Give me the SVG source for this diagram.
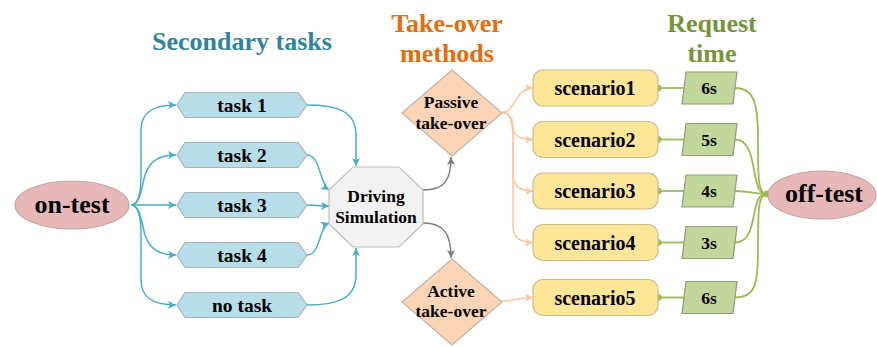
<svg xmlns="http://www.w3.org/2000/svg" width="877" height="347" viewBox="0 0 877 347">
<style>
text{font-family:"Liberation Serif","Times New Roman",serif;font-weight:bold;text-anchor:middle}
.title{font-size:26px}
.task{fill:#b7dee8;stroke:#a5b5ba;stroke-width:1.2}
.term{fill:#e6b9b8;stroke:#c7a5a4;stroke-width:1.2}
.oct{fill:#f2f2f2;stroke:#bfbfbf;stroke-width:1.2}
.dia{fill:#fbd5b5;stroke:#c4b3a6;stroke-width:1.2}
.scn{fill:#ffe699;stroke:#c9bb8e;stroke-width:1.2}
.par{fill:#c3d69b;stroke:#8f9d78;stroke-width:1.2}
.cb{fill:none;stroke:#4bacc6;stroke-width:1.5}
.cg{fill:none;stroke:#808080;stroke-width:1.5}
.co{fill:none;stroke:#f9c8a3;stroke-width:1.5}
.cgr{fill:none;stroke:#9bbb59;stroke-width:1.8}
.t19{font-size:19.5px}
.t17{font-size:17.5px}
.t20{font-size:20px}
.t26{font-size:26px}
</style>
<defs>
<marker id="mb" viewBox="0 0 10 10" refX="10" refY="5" markerWidth="9" markerHeight="8" orient="auto" markerUnits="userSpaceOnUse"><path d="M0,0 L10,5 L0,10 L2.5,5 z" fill="#4bacc6"/></marker>
<marker id="mg" viewBox="0 0 10 10" refX="10" refY="5" markerWidth="9" markerHeight="8" orient="auto" markerUnits="userSpaceOnUse"><path d="M0,0 L10,5 L0,10 L2.5,5 z" fill="#808080"/></marker>
<marker id="mo" viewBox="0 0 10 10" refX="10" refY="5" markerWidth="9" markerHeight="8" orient="auto" markerUnits="userSpaceOnUse"><path d="M0,0 L10,5 L0,10 L2.5,5 z" fill="#f9c8a3"/></marker>
<marker id="dot" viewBox="0 0 10 10" refX="5" refY="5" markerWidth="7" markerHeight="7" markerUnits="userSpaceOnUse"><circle cx="5" cy="5" r="5" fill="#9bbb59"/></marker>
</defs>

<g id="titles">
<text class="title" x="242" y="50" fill="#31849b">Secondary tasks</text>
<text class="title" x="447" y="32" fill="#e46c0a">Take-over</text>
<text class="title" x="447" y="62" fill="#e46c0a">methods</text>
<text class="title" x="712" y="32" fill="#77933c">Request</text>
<text class="title" x="712" y="62" fill="#77933c">time</text>
</g>

<g id="connectors">
<path class="cb" marker-end="url(#mb)" d="M131,205 C138,205 141,195 141,175 L141,130 C141,113 152,105 176,105"/>
<path class="cb" marker-end="url(#mb)" d="M131,205 C140,205 141,190 145,175 C150,160 160,155 176,155"/>
<path class="cb" marker-end="url(#mb)" d="M131,205 L176,205"/>
<path class="cb" marker-end="url(#mb)" d="M131,205 C140,205 141,220 145,235 C150,250 160,255 176,255"/>
<path class="cb" marker-end="url(#mb)" d="M131,205 C138,205 141,215 141,235 L141,280 C141,297 152,305 176,305"/>
<path class="cb" marker-end="url(#mb)" d="M307,105 C335,105 356,110 356,135 L356,166"/>
<path class="cb" marker-end="url(#mb)" d="M307,155 C315,155 318,165 321,175 C324,184 326,188 329,190"/>
<path class="cb" marker-end="url(#mb)" d="M307,205 C315,205 320,206 329,206"/>
<path class="cb" marker-end="url(#mb)" d="M307,255 C315,255 318,245 321,235 C324,227 326,224 329,223"/>
<path class="cb" marker-end="url(#mb)" d="M307,305 C335,305 356,300 356,275 L356,248"/>
<path class="cg" marker-end="url(#mg)" d="M423,190 C445,190 451,180 451,157"/>
<path class="cg" marker-end="url(#mg)" d="M423,223 C445,223 451,235 451,258"/>
<path class="co" marker-end="url(#mo)" d="M502,112.5 C515,112.5 515,88 533,88"/>
<path class="co" marker-end="url(#mo)" d="M502,112.5 C511,112.5 513,120 513,128 C513,135 520,139.5 533,139.5"/>
<path class="co" marker-end="url(#mo)" d="M502,112.5 C510,112.5 513,120 513,140 L513,175 C513,186 520,191 533,191"/>
<path class="co" marker-end="url(#mo)" d="M502,112.5 C510,112.5 513,120 513,140 L513,226 C513,237 520,242.5 533,242.5"/>
<path class="co" marker-end="url(#mo)" d="M502,301 C515,301 518,297.5 533,297.5"/>
<path class="cgr" marker-start="url(#dot)" d="M658,88 L684,88"/>
<path class="cgr" marker-start="url(#dot)" d="M658,139.5 L684,139.5"/>
<path class="cgr" marker-start="url(#dot)" d="M658,191 L684,191"/>
<path class="cgr" marker-start="url(#dot)" d="M658,242.5 L684,242.5"/>
<path class="cgr" marker-start="url(#dot)" d="M658,297.5 L684,297.5"/>
<path class="cgr" d="M735,88 C755,88 758,105 758,140 C758,180 758,194 767,194"/>
<path class="cgr" d="M735,139.5 C750,139.5 752,160 755,175 C758,190 760,194 767,194"/>
<path class="cgr" d="M735,191 C750,191 755,194 767,194"/>
<path class="cgr" d="M735,242.5 C750,242.5 752,225 755,210 C758,197 760,194 767,194"/>
<path class="cgr" d="M735,297.5 C755,297.5 758,285 758,250 C758,210 758,194 767,194"/>
<circle cx="767" cy="194" r="3.5" fill="#9bbb59"/>
</g>

<g id="on-test"><ellipse class="term" cx="72" cy="205" rx="57" ry="24"/><text class="t26" x="72" y="213">on-test</text></g>

<g id="task1"><polygon class="task" points="177,105 185,92.5 298,92.5 307,105 298,117.5 185,117.5"/><text class="t19" x="242" y="112">task 1</text></g>
<g id="task2"><polygon class="task" points="177,155 185,142.5 298,142.5 307,155 298,167.5 185,167.5"/><text class="t19" x="242" y="162">task 2</text></g>
<g id="task3"><polygon class="task" points="177,205 185,192.5 298,192.5 307,205 298,217.5 185,217.5"/><text class="t19" x="242" y="212">task 3</text></g>
<g id="task4"><polygon class="task" points="177,255 185,242.5 298,242.5 307,255 298,267.5 185,267.5"/><text class="t19" x="242" y="262">task 4</text></g>
<g id="notask"><polygon class="task" points="177,305 185,292.5 298,292.5 307,305 298,317.5 185,317.5"/><text class="t19" x="242" y="312">no task</text></g>

<g id="driving"><polygon class="oct" points="353,167 399,167 423,190 423,224 399,247 353,247 329,224 329,190"/><text class="t17" x="376" y="202">Driving</text><text class="t17" x="376" y="223">Simulation</text></g>

<g id="passive"><polygon class="dia" points="452,70 502,113 452,156 402,113"/><text class="t17" x="451" y="108">Passive</text><text class="t17" x="451" y="129">take-over</text></g>
<g id="active"><polygon class="dia" points="452,259 502,302 452,345 402,302"/><text class="t17" x="451" y="297">Active</text><text class="t17" x="451" y="317">take-over</text></g>

<g id="scenario1"><rect class="scn" x="533" y="70" width="125" height="36" rx="10"/><text class="t20" x="595" y="95">scenario1</text></g>
<g id="scenario2"><rect class="scn" x="533" y="121.5" width="125" height="36" rx="10"/><text class="t20" x="595" y="146.5">scenario2</text></g>
<g id="scenario3"><rect class="scn" x="533" y="173" width="125" height="36" rx="10"/><text class="t20" x="595" y="198">scenario3</text></g>
<g id="scenario4"><rect class="scn" x="533" y="224.5" width="125" height="36" rx="10"/><text class="t20" x="595" y="249.5">scenario4</text></g>
<g id="scenario5"><rect class="scn" x="533" y="279.5" width="125" height="36" rx="10"/><text class="t20" x="595" y="304.5">scenario5</text></g>

<g id="time1"><polygon class="par" points="686,72 737,72 733,104 682,104"/><text class="t17" x="709" y="94">6s</text></g>
<g id="time2"><polygon class="par" points="686,123.5 737,123.5 733,155.5 682,155.5"/><text class="t17" x="709" y="145.5">5s</text></g>
<g id="time3"><polygon class="par" points="686,175 737,175 733,207 682,207"/><text class="t17" x="709" y="197">4s</text></g>
<g id="time4"><polygon class="par" points="686,226.5 737,226.5 733,258.5 682,258.5"/><text class="t17" x="709" y="248.5">3s</text></g>
<g id="time5"><polygon class="par" points="686,281.5 737,281.5 733,313.5 682,313.5"/><text class="t17" x="709" y="303.5">6s</text></g>

<g id="off-test"><ellipse class="term" cx="822" cy="195" rx="54" ry="24"/><text class="t26" x="824" y="202">off-test</text></g>
</svg>
